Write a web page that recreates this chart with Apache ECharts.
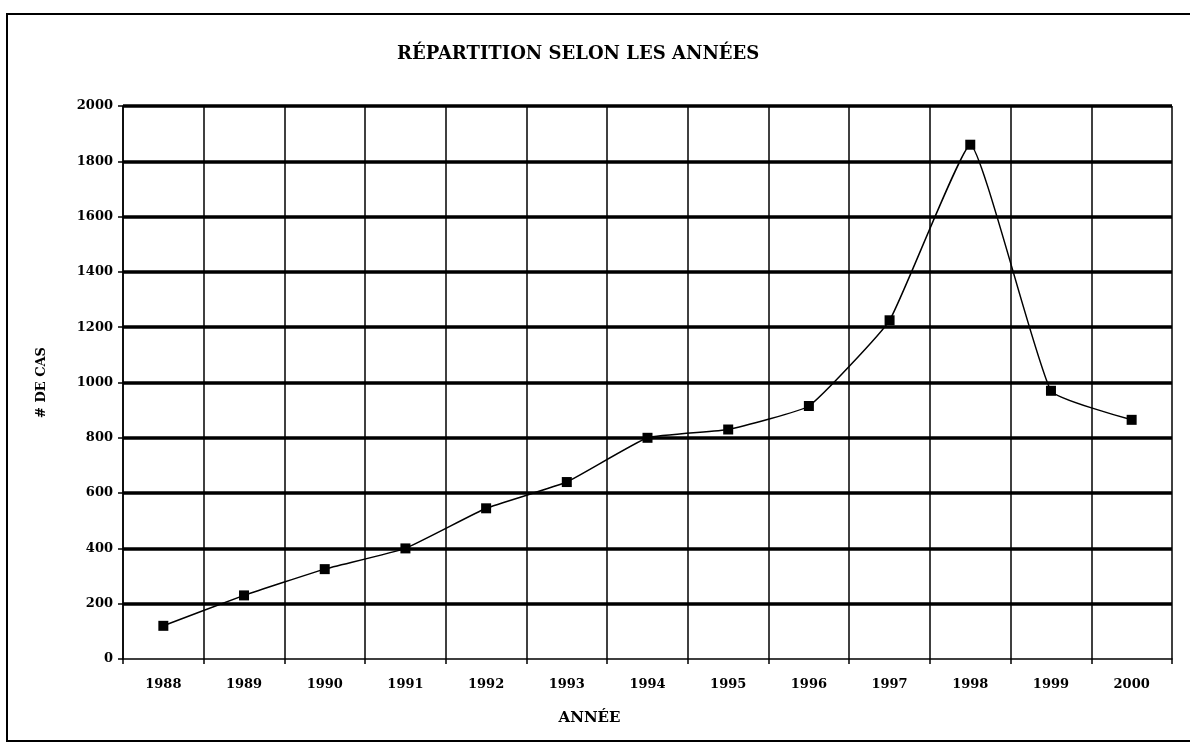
<!DOCTYPE html>
<html lang="fr">
<head>
<meta charset="UTF-8">
<title>Répartition selon les années</title>
<script src="https://cdn.jsdelivr.net/npm/echarts@6/dist/echarts.min.js"></script>
<style>
  html, body { margin: 0; padding: 0; background: #fff; }
  #chart { width: 1190px; height: 746px; }
</style>
</head>
<body>
<div id="chart"></div>
<script>
var years = ['1988', '1989', '1990', '1991', '1992', '1993', '1994',
             '1995', '1996', '1997', '1998', '1999', '2000'];
var cases = [120, 230, 325, 400, 545, 640, 800, 830, 915, 1225, 1860, 970, 865];

var font = '"DejaVu Serif", "Liberation Serif", serif';

var chart = echarts.init(document.getElementById('chart'));
// first split line (at 0) is hidden, the x axis line draws it thin
var splitColors = ['rgba(0,0,0,0)'];
for (var i = 0; i < 10; i++) splitColors.push('#000');

chart.setOption({
    backgroundColor: '#fff',
    animation: false,
    title: {
        text: 'RÉPARTITION SELON LES ANNÉES',
        left: 392,
        top: 40,
        padding: 5,
        textStyle: { fontFamily: font, fontWeight: 'bold', fontSize: 18, color: '#000' }
    },
    graphic: [{
        type: 'rect',
        shape: { x: 7, y: 14, width: 1200, height: 727 },
        style: { fill: 'none', stroke: '#000', lineWidth: 2 }
    }],
    grid: { left: 123, right: 18, top: 106, bottom: 87 },
    xAxis: {
        type: 'category',
        data: years,
        name: 'ANNÉE',
        nameLocation: 'middle',
        nameGap: 52,
        nameTextStyle: { fontFamily: font, fontWeight: 'bold', fontSize: 15, color: '#000',
                         padding: [0, 116, 0, 0] },
        axisLine: { lineStyle: { color: '#000', width: 1.5 } },
        axisTick: { show: true, length: 5, lineStyle: { color: '#000', width: 1.5 } },
        axisLabel: { fontFamily: font, fontWeight: 'bold', fontSize: 13, color: '#000', margin: 19 },
        splitLine: { show: true, lineStyle: { color: '#000', width: 1.5 } }
    },
    yAxis: {
        type: 'value',
        min: 0,
        max: 2000,
        interval: 200,
        name: '# DE CAS',
        nameLocation: 'middle',
        nameGap: 75,
        nameTextStyle: { fontFamily: font, fontWeight: 'bold', fontSize: 13, color: '#000' },
        axisLine: { show: true, lineStyle: { color: '#000', width: 1.5 } },
        axisTick: { show: true, length: 5, lineStyle: { color: '#000', width: 1.5 } },
        axisLabel: { fontFamily: font, fontWeight: 'bold', fontSize: 13, color: '#000', margin: 10,
                     formatter: function (v) { return String(v); } },
        splitLine: { show: true, lineStyle: { color: splitColors, width: 3.5 } }
    },
    series: [{
        type: 'line',
        data: cases,
        smooth: 0.12,
        symbol: 'rect',
        symbolSize: 10,
        itemStyle: { color: '#000' },
        lineStyle: { color: '#000', width: 1.5 }
    }]
});
</script>
</body>
</html>
